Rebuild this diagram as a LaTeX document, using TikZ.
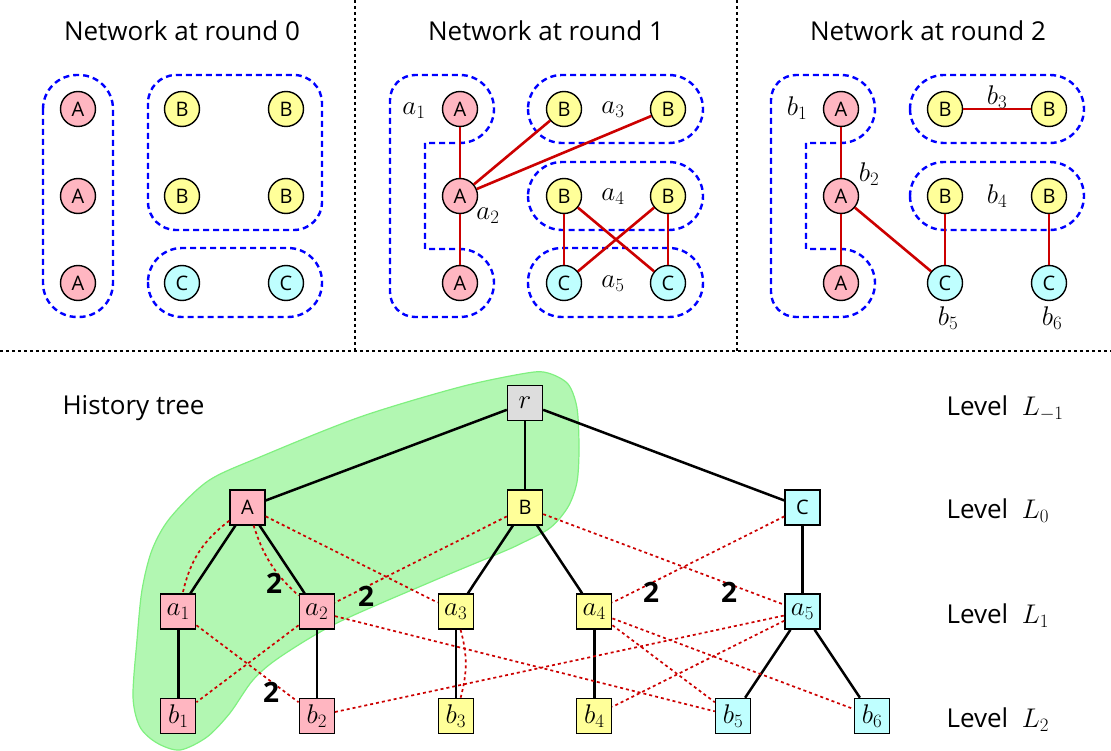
\RequirePackage{fix-cm}
\documentclass[tikz,border=0pt]{standalone}
\usepackage[no-math]{fontspec}
\setsansfont{Open Sans}
\definecolor{colA}{RGB}{255,182,193}
\definecolor{colB}{RGB}{255,255,153}
\definecolor{colC}{RGB}{191,255,255}
\definecolor{colR}{RGB}{221,221,221}
\definecolor{linkred}{RGB}{204,0,0}
\definecolor{blobfill}{RGB}{178,247,178}
\definecolor{blobline}{RGB}{128,240,128}
\newcommand{\txtfont}{\sffamily\fontsize{26}{30}\selectfont}
\newcommand{\lettfont}{\sffamily\fontsize{20}{24}\selectfont}
\newcommand{\mathfont}{\fontsize{27}{32}\selectfont}
\begin{document}
\begin{tikzpicture}
[x=1pt,y=-1pt,
 vnode/.style={circle,draw,line width=1.4pt,minimum size=35pt,inner sep=0pt,font=\lettfont},
 tnode/.style={rectangle,draw,line width=1.4pt,minimum size=35pt,inner sep=0pt,font=\mathfont},
 tlett/.style={tnode,font=\lettfont},
 grp/.style={blue,line width=2.4pt,dash pattern=on 6pt off 4pt},
 link/.style={linkred,line width=2.6pt},
 rel/.style={linkred,line width=1.7pt,dash pattern=on 3pt off 3pt},
 divider/.style={black,line width=1.2pt,dash pattern=on 3pt off 3pt},
 lbl/.style={font=\mathfont},
 mult/.style={font=\sffamily\bfseries\fontsize{28}{32}\selectfont},
 edge from parent/.style={black,line width=2.5pt,draw},
 level distance=104.3pt,
 level 1/.style={sibling distance=277.5pt},
 level 2/.style={sibling distance=138.5pt},
 level 3/.style={sibling distance=139pt}]
\useasboundingbox (0,0) rectangle (1111,751);

% the highlighted part of the history tree
\draw[fill=blobfill,draw=blobline,line width=1.2pt] plot[smooth cycle] coordinates {
  (527,373) (548,373) (568,384) (577,408) (579,448) (577,482) (568,507)
  (550,528) (520,544) (500,553) (433,581) (337,623) (280,657) (253,680)
  (230,713) (207,737) (180,750) (157,743) (140,727) (133,697) (137,640)
  (142,590) (152,550) (170,518) (208,481) (260,457) (360,417) (460,387)};

% separators
\draw[divider] (0,351) -- (1111,351);
\draw[divider] (355,0) -- (355,351);
\draw[divider] (737,0) -- (737,351);

% titles
\node[font=\txtfont,anchor=base] (title0) at (182,41) {Network at round 0};
\node[font=\txtfont,anchor=base] (title1) at (546,41) {Network at round 1};
\node[font=\txtfont,anchor=base] (title2) at (928,41) {Network at round 2};
\node[font=\txtfont,anchor=base west] (title3) at (59,414) {History tree};

% the three networks
\foreach \p/\X in {0/78,1/460,2/841}{
  \node[vnode,fill=colA] (n\p-A1) at (\X,109) {A};
  \node[vnode,fill=colA] (n\p-A2) at (\X,196) {A};
  \node[vnode,fill=colA] (n\p-A3) at (\X,283) {A};
  \node[vnode,fill=colB] (n\p-B1) at (\X+104,109) {B};
  \node[vnode,fill=colB] (n\p-B2) at (\X+208,109) {B};
  \node[vnode,fill=colB] (n\p-B3) at (\X+104,196) {B};
  \node[vnode,fill=colB] (n\p-B4) at (\X+208,196) {B};
  \node[vnode,fill=colC] (n\p-C1) at (\X+104,283) {C};
  \node[vnode,fill=colC] (n\p-C2) at (\X+208,283) {C};
}

% classes at round 0
\draw[grp,rounded corners=34pt] (43,75) rectangle (113,317);
\draw[grp,rounded corners=28pt] (148,75) rectangle (322,230);
\draw[grp,rounded corners=34pt] (148,248) rectangle (322,317);

% classes at round 1
\draw[grp] (425,249) -- (425,143) [rounded corners=34pt] -- (494,143) -- (494,75)
  [rounded corners=25pt] -- (390,75) -- (390,317)
  [rounded corners=34pt] -- (494,317) -- (494,249) [sharp corners] -- cycle;
\draw[grp,rounded corners=34pt] (528,75) rectangle (703,143);
\draw[grp,rounded corners=34pt] (528,162) rectangle (703,230);
\draw[grp,rounded corners=34pt] (528,248) rectangle (703,317);
\draw[link] (n1-A1) -- (n1-A2);
\draw[link] (n1-A2) -- (n1-A3);
\draw[link] (n1-A2) -- (n1-B1);
\draw[link] (n1-A2) -- (n1-B2);
\draw[link] (n1-B3) -- (n1-C1);
\draw[link] (n1-B4) -- (n1-C2);
\draw[link] (n1-B3) -- (n1-C2);
\draw[link] (n1-B4) -- (n1-C1);
\node[lbl] (la1) at (414,111) {$a_1$};
\node[lbl] (la2) at (488,216) {$a_2$};
\node[lbl] (la3) at (613,110) {$a_3$};
\node[lbl] (la4) at (613,197) {$a_4$};
\node[lbl] (la5) at (613,284) {$a_5$};

% classes at round 2
\draw[grp] (806,249) -- (806,143) [rounded corners=34pt] -- (875,143) -- (875,75)
  [rounded corners=25pt] -- (771,75) -- (771,317)
  [rounded corners=34pt] -- (875,317) -- (875,249) [sharp corners] -- cycle;
\draw[grp,rounded corners=34pt] (910,75) rectangle (1084,143);
\draw[grp,rounded corners=34pt] (910,162) rectangle (1084,230);
\draw[link] (n2-A1) -- (n2-A2);
\draw[link] (n2-A2) -- (n2-A3);
\draw[link] (n2-A2) -- (n2-C1);
\draw[link] (n2-B1) -- (n2-B2);
\draw[link] (n2-B3) -- (n2-C1);
\draw[link] (n2-B4) -- (n2-C2);
\node[lbl] (lb1) at (797,108) {$b_1$};
\node[lbl] (lb2) at (869,174) {$b_2$};
\node[lbl] (lb3) at (997,97) {$b_3$};
\node[lbl] (lb4) at (997,196) {$b_4$};
\node[lbl] (lb5) at (948,318) {$b_5$};
\node[lbl] (lb6) at (1052,318) {$b_6$};

% history tree
\node[tnode,fill=colR] (r) at (525,403) {$r$}
  child {node[tlett,fill=colA] (tA) {A}
    child {node[tnode,fill=colA] (ta1) {$a_1$}
      child {node[tnode,fill=colA] (tb1) {$b_1$}}}
    child {node[tnode,fill=colA] (ta2) {$a_2$}
      child {node[tnode,fill=colA] (tb2) {$b_2$}}}}
  child {node[tlett,fill=colB] (tB) {B}
    child {node[tnode,fill=colB] (ta3) {$a_3$}
      child {node[tnode,fill=colB] (tb3) {$b_3$}}}
    child {node[tnode,fill=colB] (ta4) {$a_4$}
      child {node[tnode,fill=colB] (tb4) {$b_4$}}}}
  child {node[tlett,fill=colC] (tC) {C}
    child {node[tnode,fill=colC] (ta5) {$a_5$}
      child {node[tnode,fill=colC] (tb5) {$b_5$}}
      child {node[tnode,fill=colC] (tb6) {$b_6$}}}};

% red links of the history tree
\draw[rel] (tA) to[bend right=20] (ta1);
\draw[rel] (tA) to[bend right=15] (ta2);
\draw[rel] (tA) -- (ta3);
\draw[rel] (tB) -- (ta2);
\draw[rel] (tB) -- (ta5);
\draw[rel] (tC) -- (ta4);
\draw[rel] (ta1) -- (tb2);
\draw[rel] (ta2) -- (tb1);
\draw[rel] (ta2) -- (tb5);
\draw[rel] (tb2) -- (ta5);
\draw[rel] (ta3) to[bend left=15] (tb3);
\draw[rel] (ta4) -- (tb5);
\draw[rel] (ta4) -- (tb6);
\draw[rel] (ta5) -- (tb4);
\node[mult] (m1) at (274,583) {2};
\node[mult] (m2) at (366,596) {2};
\node[mult] (m3) at (271,692) {2};
\node[mult] (m4) at (651,592) {2};
\node[mult] (m5) at (729,592) {2};

% levels
\node[font=\txtfont,anchor=base west] (lv0) at (943,415) {Level\ \ {\mathfont$L_{-1}$}};
\node[font=\txtfont,anchor=base west] (lv1) at (943,518) {Level\ \ {\mathfont$L_0$}};
\node[font=\txtfont,anchor=base west] (lv2) at (943,623) {Level\ \ {\mathfont$L_1$}};
\node[font=\txtfont,anchor=base west] (lv3) at (943,727) {Level\ \ {\mathfont$L_2$}};
\end{tikzpicture}
\end{document}
